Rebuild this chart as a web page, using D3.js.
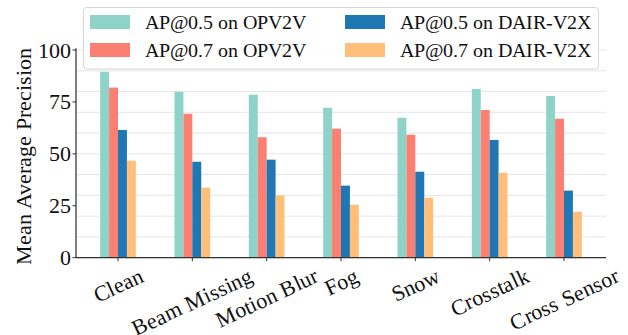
<!DOCTYPE html>
<html><head><meta charset="utf-8">
<script src="https://cdn.jsdelivr.net/npm/d3@7"></script>
<style>
@font-face { font-family: "ChartSerif"; src: local("Liberation Serif"), local("LiberationSerif"), local("Times New Roman"); }
</style>
</head>
<body style="margin:0">
<svg id="fig" width="628" height="335"></svg>
<script>
const categories = ["Clean","Beam Missing","Motion Blur","Fog","Snow","Crosstalk","Cross Sensor"];
const seriesNames = ["AP@0.5 on OPV2V","AP@0.7 on OPV2V","AP@0.5 on DAIR-V2X","AP@0.7 on DAIR-V2X"];
const ap05_opv2v = [89.5, 79.9, 78.5, 72.2, 67.4, 81.2, 77.9];
const ap07_opv2v = [81.9, 69.3, 58.0, 62.1, 59.2, 71.1, 66.9];
const ap05_dair  = [61.5, 46.2, 47.2, 34.7, 41.4, 56.7, 32.3];
const ap07_dair  = [46.7, 33.7, 30.0, 25.5, 28.9, 40.9, 22.1];
const yTicks = [0, 25, 50, 75, 100];
const yGrid = [0,10,20,30,40,50,60,70,80,90,100];
const colors = ["#8dd3c7","#fb8072","#1f77b4","#ffbe7a"];
const series = [ap05_opv2v, ap07_opv2v, ap05_dair, ap07_dair];
const FONT = "ChartSerif, 'Liberation Serif', Tinos, serif";

const svg = d3.select("#fig").style("display", "block").style("font-family", FONT, "important");
const L = 76, R = 606, B = 257.7, T = 50;
const x = d3.scaleLinear().domain([-0.565, categories.length - 1 + 0.565]).range([L, R]);
const y = d3.scaleLinear().domain([0, 100]).range([B, T]);
const barW = 0.12;

function txt(sel, size) {
  return sel.style("font-family", FONT, "important").attr("font-size", size);
}

svg.append("g").selectAll("line").data(yGrid).join("line")
  .attr("x1", L).attr("x2", R)
  .attr("y1", d => y(d)).attr("y2", d => y(d))
  .attr("stroke", "#e5e5e5").attr("stroke-width", 1);

series.forEach((vals, si) => {
  svg.append("g").selectAll("rect").data(vals).join("rect")
    .attr("x", (d, i) => x(i + (si - 2) * barW))
    .attr("width", x(barW) - x(0))
    .attr("y", d => y(d))
    .attr("height", d => y(0) - y(d))
    .attr("fill", colors[si]);
});

svg.append("line").attr("x1", L).attr("x2", L).attr("y1", B).attr("y2", y(100.8))
  .attr("stroke", "#333").attr("stroke-width", 1.25);
svg.append("line").attr("x1", L).attr("x2", R).attr("y1", B).attr("y2", B)
  .attr("stroke", "#333").attr("stroke-width", 1.25);

const yt = svg.append("g");
yt.selectAll("line").data(yTicks).join("line")
  .attr("x1", L - 3.5).attr("x2", L).attr("y1", d => y(d)).attr("y2", d => y(d))
  .attr("stroke", "#333").attr("stroke-width", 1);
txt(yt.selectAll("text").data(yTicks).join("text"), 22)
  .attr("x", L - 5).attr("y", d => y(d) + 7.5)
  .attr("text-anchor", "end").attr("fill", "#111")
  .text(d => d);

const xt = svg.append("g");
xt.selectAll("line").data(categories).join("line")
  .attr("x1", (d, i) => x(i)).attr("x2", (d, i) => x(i))
  .attr("y1", B).attr("y2", B + 3.5)
  .attr("stroke", "#333").attr("stroke-width", 1);
const ang = 25 * Math.PI / 180;
const fsX = 22;
txt(xt.selectAll("text").data(categories).join("text"), fsX)
  .attr("fill", "#111")
  .attr("text-anchor", "middle")
  .text(d => d)
  .each(function(d, i) {
    const w = this.getComputedTextLength();
    const h = fsX * 1.1;
    const H = w * Math.sin(ang) + h * Math.cos(ang);
    const cy = B + 6 + H / 2;
    d3.select(this).attr("transform", `translate(${x(i)},${cy}) rotate(-25)`)
      .attr("x", 0).attr("y", fsX * 0.33);
  });

txt(svg.append("text"), 22)
  .attr("transform", `translate(31,${(B + 50) / 2 + 3}) rotate(-90)`)
  .attr("text-anchor", "middle").attr("fill", "#111")
  .text("Mean Average Precision");

const lg = svg.append("g");
lg.append("rect").attr("x", 83.5).attr("y", 7.5).attr("width", 515).attr("height", 61.5)
  .attr("rx", 3).attr("fill", "#fff").attr("fill-opacity", 0.85)
  .attr("stroke", "#d6d6d6").attr("stroke-width", 1);
const legPos = [[90, 22], [90, 50], [345, 22], [345, 50]];
seriesNames.forEach((name, i) => {
  const [lx, ly] = legPos[i];
  lg.append("rect").attr("x", lx).attr("y", ly - 7).attr("width", 40).attr("height", 14)
    .attr("fill", colors[i]);
  txt(lg.append("text"), 19.6)
    .attr("x", lx + 55).attr("y", ly + 6.8)
    .attr("fill", "#111").text(name);
});
</script>
</body>
</html>
